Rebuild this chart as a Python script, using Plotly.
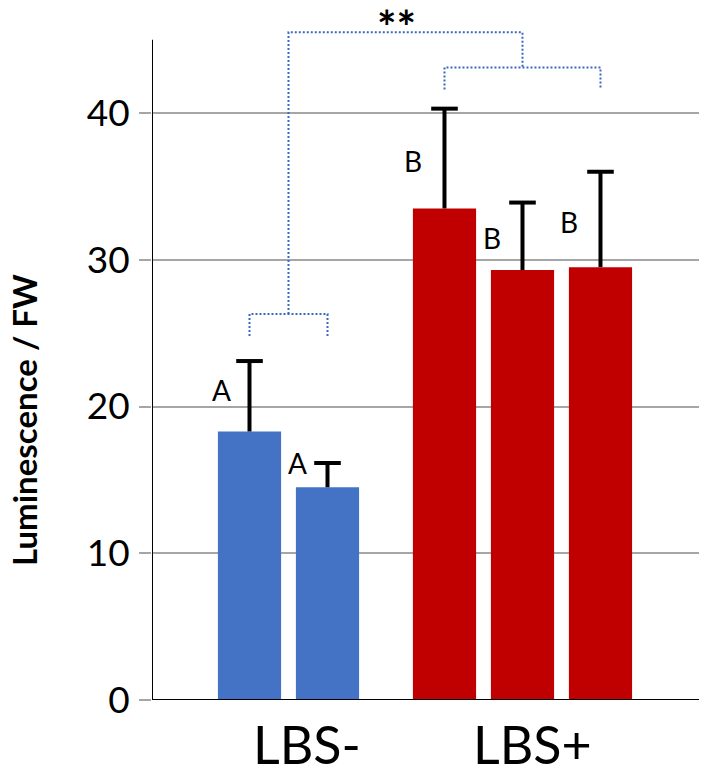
import plotly.graph_objects as go

# ---- data ----
groups = ["LBS-", "LBS+"]
bar_x = [1, 2, 3.5, 4.5, 5.5]
bar_group = [0, 0, 1, 1, 1]
values = [18.3, 14.5, 33.5, 29.3, 29.5]
errors = [4.8, 1.65, 6.8, 4.6, 6.5]
letters = ["A", "A", "B", "B", "B"]
y_ticks = [0, 10, 20, 30, 40]

# ---- annotation geometry ----
letter_x = [0.635, 1.62, 3.1, 4.11, 5.1]
letter_y = [21.1, 16.15, 36.7, 31.5, 32.6]
group_label_x = [1.74, 4.63]
bracket_low = 26.3
bracket_high = 43.1
bracket_top = 45.5
bracket_drop = 1.5
axis_top = 45
x_range = [-0.25, 6.763]
y_range = [0, 47.5]

group_colors = ["#4472C4", "#C00000"]
bracket_color = "#3B68C0"
grid_color = "#A6A6A6"
FONT = "Lato"

fig = go.Figure()

fig.add_trace(go.Bar(
    x=bar_x, y=values, width=0.81,
    marker=dict(color=[group_colors[g] for g in bar_group], line=dict(width=0)),
    showlegend=False, hoverinfo="skip",
))

# error bars (upper only)
sx, sy = [], []
for x, v, e in zip(bar_x, values, errors):
    sx += [x, x, None]
    sy += [v, v + e, None]
fig.add_trace(go.Scatter(x=sx, y=sy, mode="lines", line=dict(color="black", width=4),
                         showlegend=False, hoverinfo="skip"))
fig.add_trace(go.Scatter(x=bar_x, y=[v + e for v, e in zip(values, errors)], mode="markers",
                         marker=dict(symbol="line-ew", size=19, line=dict(color="black", width=4)),
                         showlegend=False, hoverinfo="skip"))

# significance brackets
left_mid = (bar_x[0] + bar_x[1]) / 2
right_mid = bar_x[3]
bx = [bar_x[0], bar_x[0], bar_x[1], bar_x[1], None,
      bar_x[2], bar_x[2], bar_x[4], bar_x[4], None,
      left_mid, left_mid, right_mid, right_mid]
by = [bracket_low - bracket_drop, bracket_low, bracket_low, bracket_low - bracket_drop, None,
      bracket_high - bracket_drop, bracket_high, bracket_high, bracket_high - bracket_drop, None,
      bracket_low, bracket_top, bracket_top, bracket_high]
fig.add_trace(go.Scatter(x=bx, y=by, mode="lines",
                         line=dict(color=bracket_color, width=2, dash="2px,2px"),
                         showlegend=False, hoverinfo="skip", cliponaxis=False))

# axis lines
fig.add_trace(go.Scatter(x=[x_range[0], x_range[0]], y=[0, axis_top], mode="lines",
                         line=dict(color="black", width=2), cliponaxis=False,
                         showlegend=False, hoverinfo="skip"))
fig.add_trace(go.Scatter(x=[x_range[0] - 12 / 78, x_range[1]], y=[0, 0], mode="lines",
                         line=dict(color="black", width=2), cliponaxis=False,
                         showlegend=False, hoverinfo="skip"))

annotations = []
for t, x, y in zip(letters, letter_x, letter_y):
    annotations.append(dict(x=x, y=y, xref="x", yref="y", text=t, showarrow=False,
                            font=dict(family=FONT, size=28, color="black")))
for t, x in zip(groups, group_label_x):
    annotations.append(dict(x=x, y=-0.063, xref="x", yref="paper", text=t, showarrow=False,
                            yanchor="middle", font=dict(family=FONT, size=52, color="black")))
annotations.append(dict(x=2.89, y=45.9, xref="x", yref="y", text="<b>**</b>", showarrow=False,
                        font=dict(family=FONT, size=46, color="black")))
annotations.append(dict(x=-0.234, y=0.4017, xref="paper", yref="paper", text="<b>Luminescence / FW</b>",
                        textangle=-90, showarrow=False, xanchor="center", yanchor="middle",
                        font=dict(family=FONT, size=33, color="black")))

fig.update_layout(
    width=708, height=777,
    margin=dict(l=152, r=9, t=3, b=77),
    paper_bgcolor="white", plot_bgcolor="white",
    annotations=annotations,
    xaxis=dict(range=x_range, showgrid=False, zeroline=False, showline=False,
               showticklabels=False, ticks=""),
    yaxis=dict(range=y_range, tickvals=y_ticks, showgrid=True, gridcolor=grid_color, gridwidth=1.5,
               zeroline=False, showline=False, ticks="outside", ticklen=12, tickwidth=1.5,
               tickcolor=grid_color, ticklabelstandoff=2,
               tickfont=dict(family=FONT, size=37, color="black")),
)

fig.write_html("out.html")
